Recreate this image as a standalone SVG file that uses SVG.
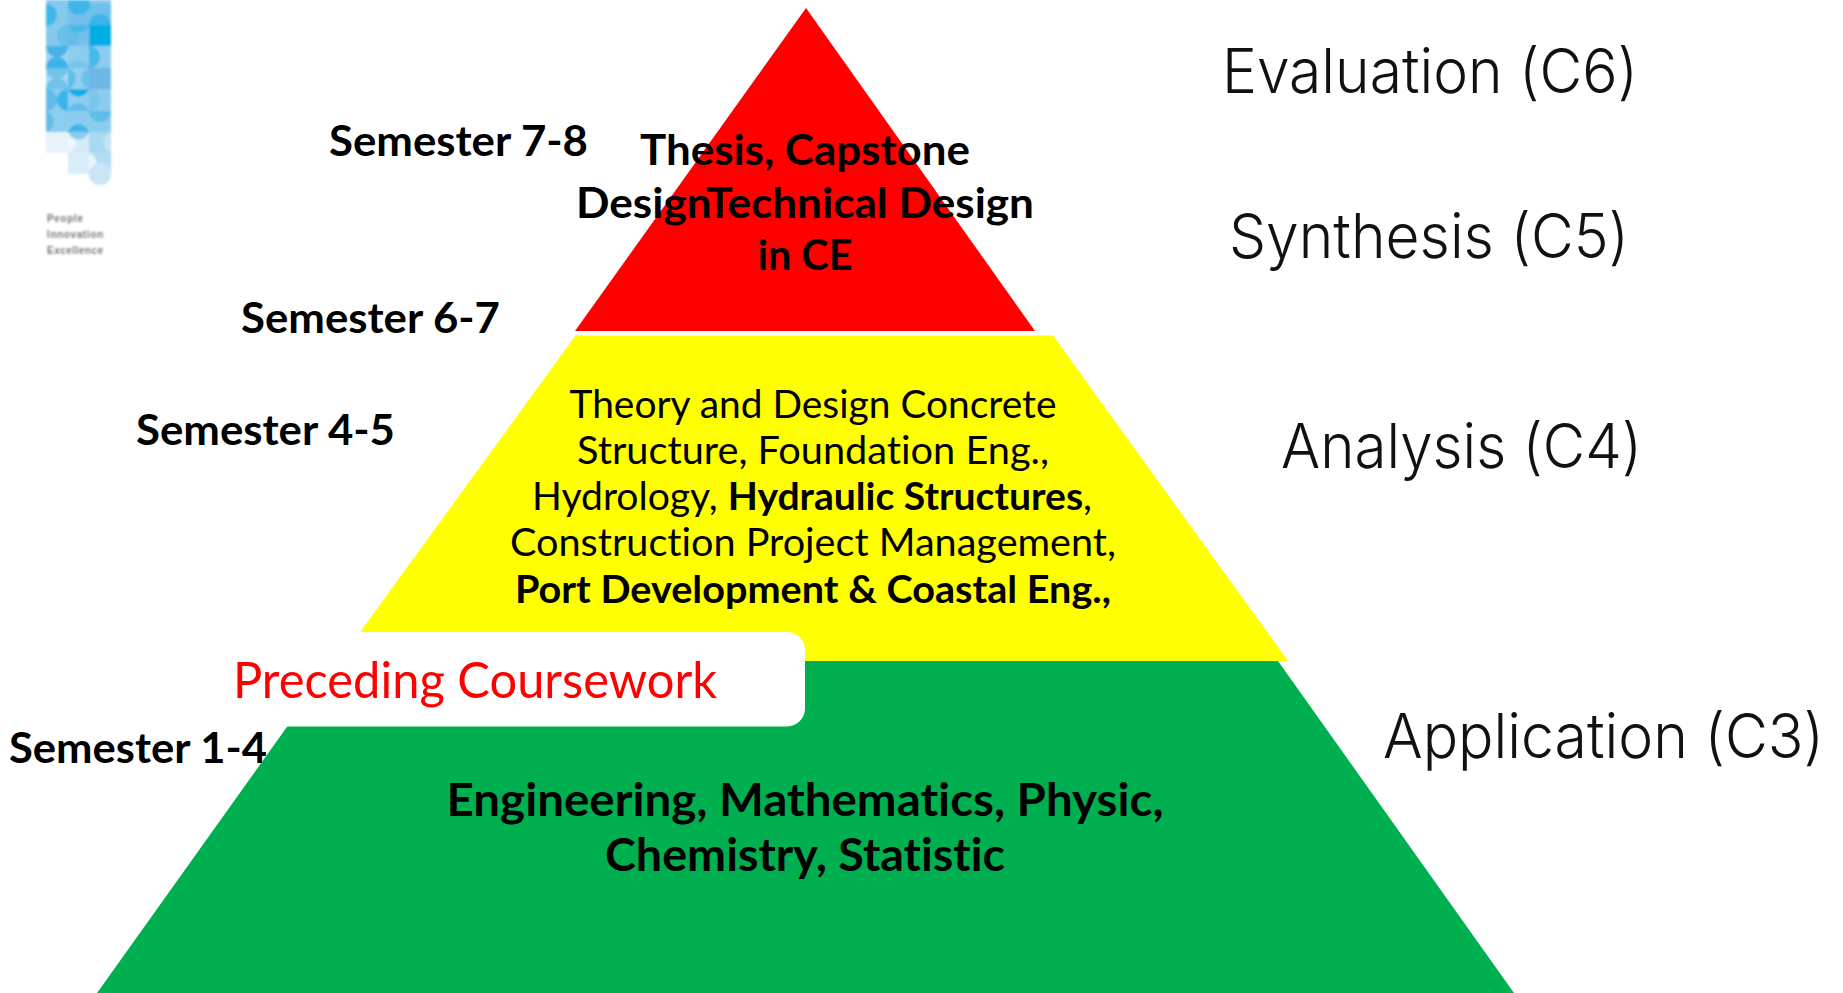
<svg xmlns="http://www.w3.org/2000/svg" width="1843" height="993" viewBox="0 0 1843 993">
<style>
text{font-variant-ligatures:none}
.sem{font-family:"Lato","Open Sans",sans-serif;font-weight:700;font-size:42px;fill:#000}
.tb{font-family:"Lato","Open Sans",sans-serif;font-weight:700;fill:#000;text-anchor:middle}
.tr{font-family:"Lato","Open Sans",sans-serif;font-weight:400;fill:#000;text-anchor:middle}
.c{font-family:"Inter","Roboto","Liberation Sans",sans-serif;font-weight:300;font-size:62px;fill:#111}
.lg{font-family:"Liberation Sans",sans-serif;font-weight:700;font-size:10px;fill:#777}
.d{opacity:.75}
</style>
<defs>
<filter id="soft" x="-5%" y="-5%" width="110%" height="110%"><feGaussianBlur stdDeviation="0.8"/></filter>
<clipPath id="logoClip"><path d="M46 0H111V174A11 11 0 0 1 89 174H68V153H46Z"/></clipPath>
</defs>
<rect width="1843" height="993" fill="#fff"/>
<g id="logo" filter="url(#soft)">
<g clip-path="url(#logoClip)">
<rect x="46" y="0" width="65" height="132" fill="#84c8ec"/>
<rect x="68" y="4" width="21" height="21" fill="#74c0ea"/><rect x="89" y="4" width="22" height="21" fill="#6cc0ea"/>
<rect x="89" y="25" width="22" height="21" fill="#00aee6"/>
<rect x="68" y="25" width="21" height="21" fill="#74c0ea"/>
<g class="d"><circle cx="46" cy="15" r="11" fill="#2bb2e8"/><circle cx="79" cy="4" r="11" fill="#2bb2e8"/>
<path d="M89 25A11 11 0 0 1 111 25Z" fill="#2bb2e8"/><circle cx="68" cy="36" r="11" fill="#5fbce9"/><path d="M68 25H89A11 11 0 0 1 68 25Z" fill="#3ab6e8"/></g>
<rect x="46" y="46" width="22" height="22" fill="#9bd3f0"/><rect x="68" y="46" width="21" height="22" fill="#8ccdef"/><rect x="89" y="46" width="22" height="22" fill="#8ccdef"/>
<g class="d"><path d="M46 46H68A11 11 0 0 1 46 46Z" fill="#2ba8e4"/><path d="M46 68A11 11 0 0 1 68 68Z" fill="#1aa8e6"/><path d="M89 46A11 11 0 0 1 89 68Z" fill="#2fb2e8"/><path d="M68 68A11 11 0 0 1 89 68Z" fill="#74c0ea"/></g>
<rect x="89" y="68" width="22" height="21" fill="#6eb6e4"/><rect x="46" y="68" width="22" height="21" fill="#a6d8f2"/><rect x="68" y="68" width="21" height="21" fill="#8fd0f0"/>
<g class="d"><path d="M46 68H68A11 11 0 0 1 46 68Z" fill="#60bdea"/><path d="M46 89A11 11 0 0 1 68 89Z" fill="#60bdea"/><path d="M68 68A11 11 0 0 1 68 89Z" fill="#4db8e8"/><path d="M89 68A11 11 0 0 0 89 89Z" fill="#60bdea"/></g>
<rect x="46" y="89" width="65" height="43" fill="#8ccdef"/>
<g class="d"><path d="M46 89A11 11 0 0 1 46 111Z" fill="#4fb5e6"/><path d="M68 89A11 11 0 0 0 68 111Z" fill="#1faee6"/></g><path d="M68 89H89A11 11 0 0 1 68 89Z" fill="#0fb0e6"/>
<g class="d"><path d="M68 111A11 11 0 0 1 89 111Z" fill="#52b8e8"/><path d="M89 89A11 11 0 0 1 89 111Z" fill="#74c3ec"/>
<path d="M89 111H111A11 11 0 0 1 89 111Z" fill="#4fb8e8"/><path d="M46 111A11 11 0 0 1 46 132Z" fill="#55b8e8"/><path d="M68 132A11 11 0 0 1 89 132Z" fill="#28aee6"/></g>
<rect x="46" y="132" width="22" height="21" fill="#e6f3fb"/><rect x="68" y="132" width="21" height="21" fill="#d4ebf8"/><rect x="89" y="132" width="22" height="21" fill="#a8d8f2"/>
<path d="M68 132A11 11 0 0 1 68 153Z" fill="#eff8fd"/><path d="M111 132A11 11 0 0 0 111 153Z" fill="#c4e4f6"/>
<path d="M68 132H89A11 11 0 0 1 68 132Z" fill="#8ccdef"/>
<rect x="68" y="153" width="21" height="21" fill="#d9eefa"/><rect x="89" y="153" width="22" height="32" fill="#b4dcf4"/><path d="M89 153A11 11 0 0 1 89 174Z" fill="#e8f5fc"/><circle cx="100" cy="174" r="11" fill="#c9e6f7"/>
</g>
<text class="lg" x="47" y="222" textLength="36">People</text>
<text class="lg" x="47" y="238" textLength="56">Innovation</text>
<text class="lg" x="47" y="254" textLength="56">Excellence</text>
</g>
<g id="level-application"><polygon points="97,993 334,661 1278,661 1514,993" fill="#00b050"/></g>
<g id="level-analysis"><polygon points="339,661 575.5,335.5 1053,335.5 1288,661" fill="#ffff00"/></g>
<g id="level-synthesis"><polygon points="806,8 1035,331 575,331" fill="#ff0000"/></g>
<g id="preceding">
<path d="M200 632H787A18 18 0 0 1 805 650V708A18 18 0 0 1 787 726.500H200Z" fill="#fff"/>
<text x="233" y="698" textLength="484" lengthAdjust="spacingAndGlyphs" style="font-family:'Lato','Open Sans',sans-serif;font-size:50px;fill:#ff0000">Preceding Coursework</text>
</g>
<g id="thesis-text">
<text class="tb" font-size="42" x="805" y="165" textLength="330" lengthAdjust="spacingAndGlyphs">Thesis, Capstone</text>
<text class="tb" font-size="42" x="805" y="218" textLength="458" lengthAdjust="spacingAndGlyphs">DesignTechnical Design</text>
<text class="tb" font-size="42" x="805" y="270" textLength="95" lengthAdjust="spacingAndGlyphs">in CE</text>
</g>
<g id="analysis-text">
<text class="tr" font-size="38" x="813" y="418" textLength="487" lengthAdjust="spacingAndGlyphs">Theory and Design Concrete</text>
<text class="tr" font-size="38" x="813" y="464" textLength="472" lengthAdjust="spacingAndGlyphs">Structure, Foundation Eng.,</text>
<text class="tr" font-size="38" x="812" y="510" textLength="560" lengthAdjust="spacingAndGlyphs">Hydrology, <tspan font-weight="700">Hydraulic Structures</tspan>,</text>
<text class="tr" font-size="38" x="813" y="556" textLength="606" lengthAdjust="spacingAndGlyphs">Construction Project Management,</text>
<text class="tb" font-size="38" x="813" y="603" textLength="596" lengthAdjust="spacingAndGlyphs">Port Development &amp; Coastal Eng.,</text>
</g>
<g id="application-text">
<text class="tb" font-size="46" x="805" y="816" textLength="717" lengthAdjust="spacingAndGlyphs">Engineering, Mathematics, Physic,</text>
<text class="tb" font-size="46" x="805" y="871" textLength="400" lengthAdjust="spacingAndGlyphs">Chemistry, Statistic</text>
</g>
<g id="semesters">
<text class="sem" x="329" y="156" textLength="259" lengthAdjust="spacingAndGlyphs">Semester 7-8</text>
<text class="sem" x="241" y="333" textLength="259" lengthAdjust="spacingAndGlyphs">Semester 6-7</text>
<text class="sem" x="136" y="445" textLength="259" lengthAdjust="spacingAndGlyphs">Semester 4-5</text>
<text class="sem" x="9" y="763" textLength="258" lengthAdjust="spacingAndGlyphs">Semester 1-4</text>
</g>
<g id="bloom-labels">
<text class="c" x="1222" y="93" textLength="416" lengthAdjust="spacingAndGlyphs">Evaluation (C6)</text>
<text class="c" x="1229" y="258" textLength="400" lengthAdjust="spacingAndGlyphs">Synthesis (C5)</text>
<text class="c" x="1281" y="468" textLength="361" lengthAdjust="spacingAndGlyphs">Analysis (C4)</text>
<text class="c" x="1383" y="758" textLength="441" lengthAdjust="spacingAndGlyphs">Application (C3)</text>
</g>
</svg>
